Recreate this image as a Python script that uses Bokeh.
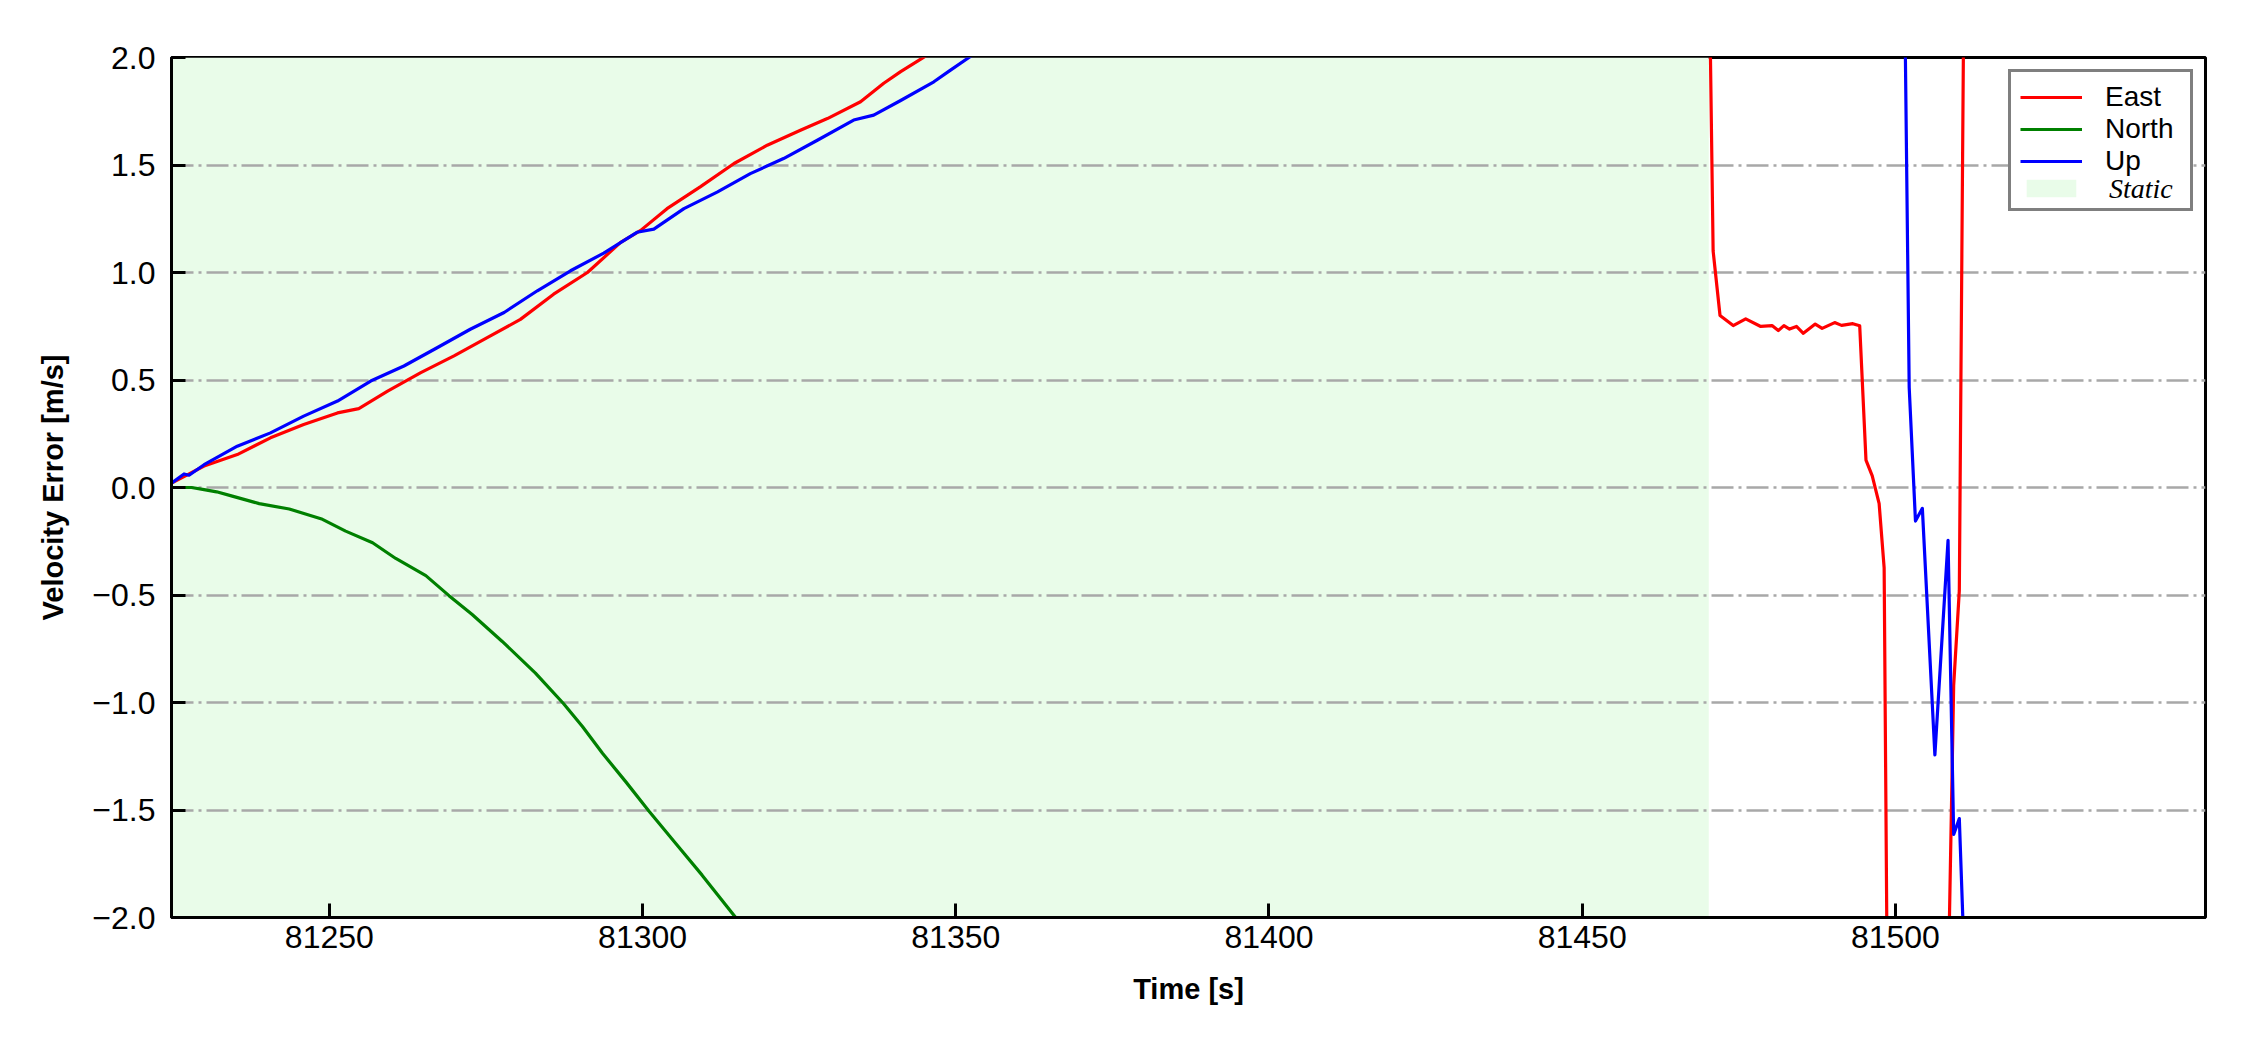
from bokeh.plotting import figure
from bokeh.models import Range1d, FixedTicker, Legend, LegendItem
from bokeh.core.properties import value
from bokeh.embed import file_html
from bokeh.resources import INLINE

# ---- data ----
east_t = [81224.8, 81230.0, 81235.3, 81240.6, 81245.9, 81251.3, 81254.7, 81259.3, 81264.6, 81269.9,
          81275.2, 81280.5, 81285.8, 81291.2, 81296.5, 81299.7, 81303.9, 81309.2, 81314.6, 81319.9,
          81325.2, 81329.5, 81334.8, 81338.5, 81341.2, 81344.6, 81350.0, 81360.0, 81470.0, 81470.9,
          81472.0, 81474.1, 81476.1, 81478.5, 81480.3, 81481.3, 81482.2, 81483.1, 81484.2, 81485.3,
          81487.2, 81488.3, 81490.3, 81491.4, 81493.2, 81494.3, 81495.3, 81496.3, 81497.4, 81498.2,
          81499.0, 81508.0, 81509.3, 81510.2, 81511.0, 81549.5]
east_v = [0.02, 0.10, 0.153, 0.231, 0.293, 0.347, 0.367, 0.448, 0.534, 0.612,
          0.697, 0.782, 0.899, 1.00, 1.14, 1.196, 1.297, 1.398, 1.507, 1.592,
          1.662, 1.716, 1.794, 1.88, 1.934, 1.996, 2.10, 2.30, 3.0, 1.10,
          0.80, 0.753, 0.784, 0.749, 0.753, 0.73, 0.753, 0.737, 0.749, 0.717,
          0.76, 0.74, 0.767, 0.754, 0.762, 0.752, 0.127, 0.054, -0.075, -0.374,
          -3.5, -3.0, -0.92, -0.48, 2.6, 5.0]

north_t = [81224.8, 81228.0, 81230.0, 81232.0, 81234.5, 81238.8, 81243.6, 81248.9, 81252.6, 81256.9,
           81260.6, 81265.4, 81269.1, 81272.8, 81277.6, 81282.9, 81287.4, 81290.4, 81293.6, 81297.3,
           81301.0, 81305.3, 81309.5, 81314.8, 81320.0, 81549.5]
north_v = [0.0, 0.0, -0.01, -0.02, -0.04, -0.075, -0.10, -0.148, -0.203, -0.257,
           -0.33, -0.41, -0.503, -0.591, -0.716, -0.863, -1.006, -1.112, -1.236, -1.368,
           -1.505, -1.656, -1.803, -1.998, -2.2, -9.0]

up_t = [81224.8, 81226.8, 81227.6, 81230.0, 81235.3, 81240.6, 81245.9, 81251.3, 81256.6, 81261.9,
        81267.2, 81272.5, 81277.9, 81283.2, 81288.5, 81293.8, 81299.1, 81301.8, 81306.6, 81311.9,
        81317.2, 81322.5, 81327.9, 81333.7, 81336.9, 81341.2, 81346.5, 81349.1, 81352.1, 81356.0,
        81501.0, 81502.2, 81503.2, 81504.3, 81506.3, 81508.4, 81509.3, 81510.2, 81511.0, 81549.5]
up_v = [0.02, 0.063, 0.057, 0.106, 0.192, 0.254, 0.332, 0.402, 0.495, 0.565,
        0.65, 0.736, 0.814, 0.915, 1.008, 1.09, 1.187, 1.202, 1.297, 1.374,
        1.46, 1.53, 1.615, 1.709, 1.732, 1.80, 1.887, 1.94, 2.0, 2.08,
        3.5, 0.465, -0.156, -0.097, -1.244, -0.246, -1.614, -1.54, -2.2, -3.0]

static_start = [81224.8]
static_end = [81470.2]

x_ticks = [81250, 81300, 81350, 81400, 81450, 81500]
x_tick_labels = ["81250", "81300", "81350", "81400", "81450", "81500"]
y_ticks = [-2.0, -1.5, -1.0, -0.5, 0.0, 0.5, 1.0, 1.5, 2.0]
y_tick_labels = ["\u22122.0", "\u22121.5", "\u22121.0", "\u22120.5", "0.0", "0.5", "1.0", "1.5", "2.0"]

t_min, t_max = 81224.8, 81549.5
y_min, y_max = -2.0, 2.0

# ---- figure ----
W, H = 2242, 1042
FL, FR, FT, FB = 171, 2205, 57, 917  # frame edges in figure pixels

p = figure(width=W, height=H, output_backend="svg", toolbar_location=None,
           x_range=Range1d(t_min, t_max), y_range=Range1d(y_min, y_max),
           min_border_left=FL, min_border_right=W - FR,
           min_border_top=FT, min_border_bottom=H - FB)
p.background_fill_color = "white"
p.border_fill_color = "white"
p.outline_line_color = "black"
p.outline_line_width = 3

r_static = p.quad(left=static_start, right=static_end, bottom=[y_min], top=[y_max],
                  fill_color="#e9fce9", line_color=None, level="image")

lw = 3.2
r_e = p.line(east_t, east_v, line_color="#ff0000", line_width=lw, line_join="round")
r_n = p.line(north_t, north_v, line_color="#008000", line_width=lw, line_join="round")
r_u = p.line(up_t, up_v, line_color="#0000ff", line_width=lw, line_join="round")
r_dummy = p.line(x=static_start, y=[y_min], line_alpha=0)

# axes
for ax in (p.xaxis[0], p.yaxis[0]):
    ax.axis_line_width = 3
    ax.axis_line_color = "black"
    ax.major_tick_in = 14
    ax.major_tick_out = 0
    ax.major_tick_line_width = 3
    ax.major_tick_line_color = "black"
    ax.minor_tick_line_color = None
    ax.major_label_text_font = "Liberation Sans"
    ax.major_label_text_font_size = "32px"
    ax.major_label_text_color = "black"
    ax.axis_label_text_font = "Liberation Sans"
    ax.axis_label_text_font_size = "29px"
    ax.axis_label_text_font_style = "bold"
    ax.axis_label_text_color = "black"

p.xaxis.ticker = FixedTicker(ticks=x_ticks)
p.xaxis.major_label_overrides = dict(zip(x_ticks, x_tick_labels))
p.xaxis.axis_label = "Time [s]"
p.xaxis.major_label_standoff = 8
p.xaxis.axis_label_standoff = 22

p.yaxis.ticker = FixedTicker(ticks=y_ticks)
p.yaxis.major_label_overrides = dict(zip(y_ticks, y_tick_labels))
p.yaxis.axis_label = "Velocity Error [m/s]"
p.yaxis.major_label_standoff = 16
p.yaxis.axis_label_standoff = 20

p.xgrid.grid_line_color = None
p.ygrid.ticker = FixedTicker(ticks=y_ticks)
p.ygrid.grid_line_color = "#a8a8a8"
p.ygrid.grid_line_width = 2.5
p.ygrid.grid_line_dash = "22 5 3 5"

# legends
legA = Legend(items=[LegendItem(label=value("East"), renderers=[r_e]),
                     LegendItem(label=value("North"), renderers=[r_n]),
                     LegendItem(label=value("Up"), renderers=[r_u]),
                     LegendItem(label=value(""), renderers=[r_static])],
              location="top_right", margin=12, padding=9, spacing=0,
              glyph_width=62, glyph_height=22, label_standoff=23, label_width=76,
              label_text_font="Liberation Sans", label_text_font_size="28px",
              label_text_color="black",
              border_line_color="black", border_line_width=3,
              background_fill_color="white", background_fill_alpha=1.0)
p.add_layout(legA, "center")

legB = Legend(items=[LegendItem(label=value("Static"), renderers=[r_dummy])],
              location=(1937, 712), margin=0, padding=0, spacing=0,
              glyph_width=1, glyph_height=20, label_standoff=0,
              label_text_font="Liberation Serif", label_text_font_style="italic",
              label_text_font_size="28px", label_text_color="black",
              border_line_color=None, background_fill_alpha=0.0)
p.add_layout(legB, "center")

open("out.html", "w").write(file_html(p, INLINE))
